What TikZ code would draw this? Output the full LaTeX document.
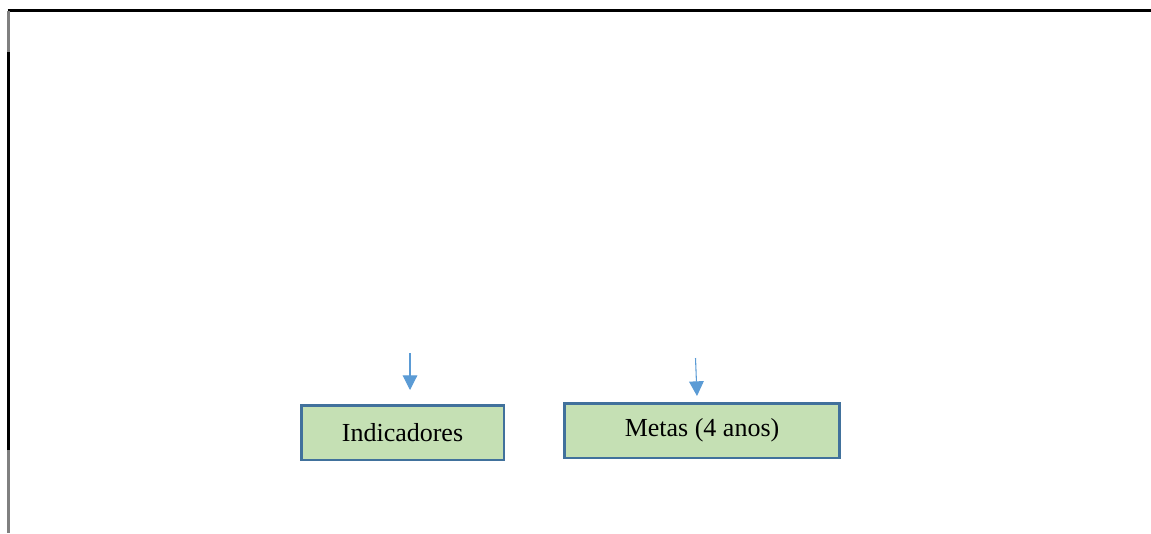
\documentclass[tikz,border=0pt]{standalone}
\usepackage{fontspec}
\setmainfont{Liberation Serif}
\usetikzlibrary{arrows.meta}
\definecolor{boxfill}{HTML}{C5E0B4}
\definecolor{boxline}{HTML}{41719C}
\definecolor{arrowblue}{HTML}{5B9BD5}
\begin{document}
\begin{tikzpicture}[x=0.75pt,y=-0.75pt,
  box/.style={draw=boxline,fill=boxfill,line width=2pt,inner sep=0pt,
    font=\fontsize{19.5}{23}\selectfont},
  feed/.style={draw=arrowblue,line width=0.8pt,-{Triangle[width=11pt,length=11pt]}}]
\useasboundingbox (0,0) rectangle (1151,533);
% frame
\draw[line width=1.6pt] (7.5,10.5) -- (1151,10.5);
\draw[line width=1.6pt,gray] (8.5,10.5) -- (8.5,52);
\draw[line width=1.6pt] (8.5,52) -- (8.5,450);
\draw[line width=1.6pt,gray] (8.5,450) -- (8.5,533);
% boxes
\node[box,minimum width=152pt,minimum height=41pt] (ind) at (402.5,432.5) {Indicadores};
\node[box,minimum width=206pt,minimum height=41pt] (metas) at (702,430.5) {Metas (4 anos)};
% arrows
\coordinate (ind-from) at (410,353);
\coordinate (ind-to) at (410,390);
\draw[feed] (ind-from) -- (ind-to);
\coordinate (metas-from) at (695.5,358);
\coordinate (metas-to) at (697,396);
\draw[feed] (metas-from) -- (metas-to);
\end{tikzpicture}
\end{document}
